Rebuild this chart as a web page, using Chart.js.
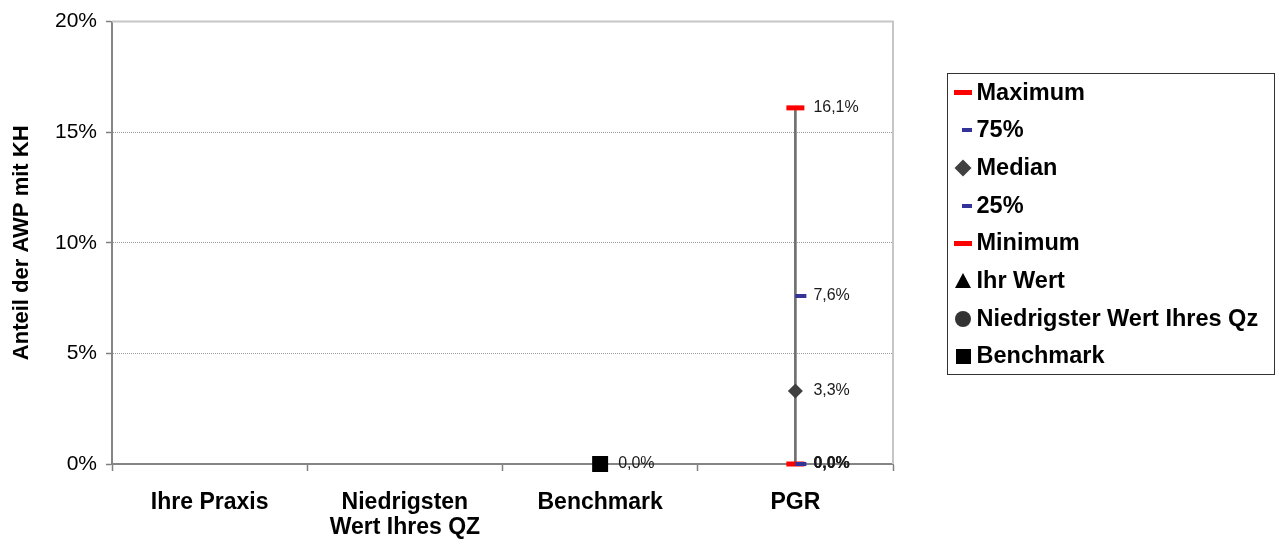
<!DOCTYPE html>
<html lang="de">
<head>
<meta charset="utf-8">
<title>Anteil der AWP mit KH</title>
<script src="https://cdn.jsdelivr.net/npm/chart.js@4.4.1/dist/chart.umd.min.js"></script>
<style>
  html, body { margin: 0; padding: 0; background: #fff; }
  #wrap { position: relative; width: 1283px; height: 545px; }
  #legend {
    position: absolute; left: 947px; top: 73px; width: 328px; height: 302px;
    box-sizing: border-box; border: 1.5px solid #333;
    font: bold 23.5px "Liberation Sans", Arial, sans-serif; color: #000;
  }
  .lg-item { position: absolute; left: 0; width: 100%; height: 0; }
  .lg-item .mk { position: absolute; }
  .lg-item .tx { position: absolute; left: 28.5px; top: 0; transform: translateY(-50%); white-space: nowrap; line-height: 1; }
</style>
</head>
<body>
<div id="wrap">
  <canvas id="chart" width="1283" height="545"></canvas>
  <div id="legend"></div>
</div>
<script>
// Kategorien und Kennzahlen
const categories = ['Ihre Praxis', ['Niedrigsten', 'Wert Ihres QZ'], 'Benchmark', 'PGR'];
const maximum     = [null, null, null, 16.1];
const q75         = [null, null, null, 7.6];
const median      = [null, null, null, 3.3];
const q25         = [null, null, null, 0];
const minimum     = [null, null, null, 0];
const ihrWert     = [null, null, null, null];
const niedrigster = [null, null, null, null];
const benchmark   = [null, null, 0, null];
const yTicks      = [0, 5, 10, 15, 20];

const FONT = '"Liberation Sans", Arial, sans-serif';
const fmt = v => v.toFixed(1).replace('.', ',') + '%';

// kurzer Strich, der rechts vom Punkt liegt (Quartile)
function rightDash(color) {
  const c = document.createElement('canvas');
  c.width = 24; c.height = 4;
  const g = c.getContext('2d');
  g.fillStyle = color;
  g.fillRect(12, 0, 11, 4);
  return c;
}

const pointSet = (label, data, style, extra) => Object.assign({
  type: 'line', label, data, showLine: false, clip: false, order: 1,
  pointStyle: style, showValue: true, pointBorderWidth: 0
}, extra);

const datasets = [
  pointSet('Maximum', maximum, 'line', { pointRadius: 9, pointBorderWidth: 5, pointBorderColor: '#ff0000', legend: 'redDash' }),
  pointSet('75%', q75, rightDash('#333399'), { pointRadius: 6, legend: 'blueDash' }),
  pointSet('Median', median, 'rectRot', { pointRadius: 7.5, pointBackgroundColor: '#404040', legend: 'diamond' }),
  pointSet('25%', q25, rightDash('#333399'), { pointRadius: 6, legend: 'blueDash' }),
  pointSet('Minimum', minimum, 'line', { pointRadius: 9, pointBorderWidth: 5, pointBorderColor: '#ff0000', legend: 'redDash' }),
  pointSet('Ihr Wert', ihrWert, 'triangle', { pointRadius: 9, pointBackgroundColor: '#000', legend: 'triangle' }),
  pointSet('Niedrigster Wert Ihres Qz', niedrigster, 'circle', { pointRadius: 8, pointBackgroundColor: '#333', legend: 'circle' }),
  pointSet('Benchmark', benchmark, 'rect', { pointRadius: 11.3, pointBackgroundColor: '#000', legend: 'square' }),
  {
    // Spannweite Minimum..Maximum als dünner Balken
    type: 'bar', label: 'Spanne', order: 5, showValue: false,
    data: maximum.map((m, i) => m == null ? null : [minimum[i], m]),
    backgroundColor: '#6f6f6f', barThickness: 2, borderWidth: 0
  }
];

// Werte rechts neben den Markern
const valueLabels = {
  id: 'valueLabels',
  afterDatasetsDraw(chart) {
    const ctx = chart.ctx;
    const hits = {};
    chart.data.datasets.forEach(ds => {
      if (!ds.showValue) return;
      ds.data.forEach((v, i) => { if (v != null) hits[i + ':' + v] = (hits[i + ':' + v] || 0) + 1; });
    });
    ctx.save();
    ctx.textBaseline = 'middle';
    ctx.fillStyle = '#1a1a1a';
    chart.data.datasets.forEach((ds, di) => {
      if (!ds.showValue) return;
      chart.getDatasetMeta(di).data.forEach((pt, i) => {
        const v = ds.data[i];
        if (v == null) return;
        ctx.font = (hits[i + ':' + v] > 1 ? 'bold ' : '') + '16px ' + FONT;
        ctx.fillText(fmt(v), pt.x + 18, pt.y);
      });
    });
    ctx.restore();
  }
};

// hellgrauer Rahmen oben und rechts
const plotFrame = {
  id: 'plotFrame',
  beforeDatasetsDraw(chart) {
    const { ctx, chartArea: a } = chart;
    ctx.save();
    ctx.strokeStyle = '#c6c6c6';
    ctx.lineWidth = 2;
    ctx.beginPath();
    ctx.moveTo(a.left, a.top);
    ctx.lineTo(a.right, a.top);
    ctx.lineTo(a.right, a.bottom);
    ctx.stroke();
    ctx.restore();
  }
};

const chart = new Chart(document.getElementById('chart'), {
  data: { labels: categories, datasets },
  options: {
    responsive: false,
    animation: false,
    layout: { padding: { left: 0, right: 390, top: 19, bottom: 0 } },
    plugins: { legend: { display: false }, tooltip: { enabled: false } },
    scales: {
      x: {
        type: 'category',
        offset: true,
        afterFit: s => { s.height = 81; },
        grid: { offset: true, drawOnChartArea: false, tickLength: 7, tickColor: '#808080', tickWidth: 1.5 },
        border: { color: '#858585', width: 2 },
        ticks: {
          color: '#000', padding: 19, maxRotation: 0, autoSkip: false,
          font: { family: FONT, size: 23, weight: 'bold', lineHeight: 1.1 }
        }
      },
      y: {
        min: 0, max: 20,
        afterFit: s => { s.width = 112; },
        afterBuildTicks: s => { s.ticks = yTicks.map(v => ({ value: v })); },
        grid: {
          color: c => (c.tick && c.tick.value > 0 && c.tick.value < 20) ? '#9a9a9a' : 'rgba(0,0,0,0)',
          lineWidth: 1, tickLength: 6, tickColor: '#808080', tickWidth: 1.5
        },
        border: { color: '#858585', width: 2, dash: [1, 1] },
        ticks: {
          color: '#000', padding: 9,
          font: { family: FONT, size: 21 },
          callback: v => v + '%'
        },
        title: {
          display: true, text: 'Anteil der AWP mit KH', color: '#000',
          font: { family: FONT, size: 22, weight: 'bold' },
          padding: { top: 9, bottom: 0 }
        }
      }
    }
  },
  plugins: [plotFrame, valueLabels]
});

// Legende mit Rahmen rechts neben dem Diagramm
const markers = {
  redDash:  '<span class="mk" style="left:5.5px;top:-2.5px;width:18px;height:5px;background:#ff0000"></span>',
  blueDash: '<span class="mk" style="left:13.5px;top:-2px;width:10px;height:4px;background:#333399"></span>',
  diamond:  '<span class="mk" style="left:9px;top:-6px;width:12px;height:12px;background:#404040;transform:rotate(45deg)"></span>',
  triangle: '<span class="mk" style="left:6.5px;top:-8px;width:0;height:0;border-left:8.5px solid transparent;border-right:8.5px solid transparent;border-bottom:15px solid #000"></span>',
  circle:   '<span class="mk" style="left:7px;top:-8px;width:16px;height:16px;border-radius:50%;background:#333"></span>',
  square:   '<span class="mk" style="left:7.5px;top:-7.5px;width:15px;height:15px;background:#000"></span>'
};
const legendEl = document.getElementById('legend');
chart.data.datasets.filter(ds => ds.legend).forEach((ds, i) => {
  const row = document.createElement('div');
  row.className = 'lg-item';
  row.style.top = (18.5 + i * 37.7) + 'px';
  row.innerHTML = markers[ds.legend] + '<span class="tx">' + ds.label + '</span>';
  legendEl.appendChild(row);
});
</script>
</body>
</html>
